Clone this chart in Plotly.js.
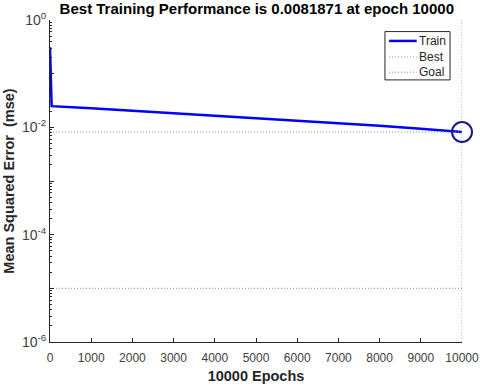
<!DOCTYPE html>
<html>
<head>
<meta charset="utf-8">
<script src="https://cdn.plot.ly/plotly-3.0.1.min.js"></script>
<style>html,body{margin:0;padding:0;background:#fff;}#chart{width:480px;height:386px;}</style>
</head>
<body>
<div id="chart"></div>
<script>
// Data
const epochs = [0, 10, 20, 40, 1000, 2000, 3000, 4000, 5000, 6000, 7000, 8000, 9000, 10000];
const trainPerf = [0.31, 0.12, 0.05, 0.0248, 0.0226, 0.0204, 0.0184, 0.0166, 0.0150, 0.0134, 0.0120, 0.0107, 0.00944, 0.0081871];
const bestEpoch = 10000;
const bestPerf = 0.0081871;
const goalPerf = 1e-5;
const xLimits = [0, 10000];
const yLimits = [1e-6, 1];
const xTicks = [0, 1000, 2000, 3000, 4000, 5000, 6000, 7000, 8000, 9000, 10000];
const xTickText = ['0', '1000', '2000', '3000', '4000', '5000', '6000', '7000', '8000', '9000', '10000'];
const yTickVals = [1e-6, 1e-5, 1e-4, 1e-3, 1e-2, 1e-1, 1];
const yTickText = ['10<sup>-6</sup>', '', '10<sup>-4</sup>', '', '10<sup>-2</sup>', '', '10<sup>0</sup>'];
const legendNames = ['Train', 'Best', 'Goal'];

const minorVals = [];
for (let e = -6; e < 0; e++) for (let m = 2; m <= 9; m++) minorVals.push(m * Math.pow(10, e));

const font = 'Liberation Sans, Arial, Helvetica, sans-serif';
const dotColor = '#8c8c8c';
const trainStyle = {color: '#0000ff', width: 2.5};
const dotStyle = {color: dotColor, width: 1, dash: '1px,2px'};

const traces = [
  {x: epochs, y: trainPerf, type: 'scatter', mode: 'lines', name: legendNames[0], line: trainStyle},
  {x: [xLimits[0], bestEpoch, null, bestEpoch, bestEpoch], y: [bestPerf, bestPerf, null, yLimits[0], yLimits[1]],
   type: 'scatter', mode: 'lines', name: legendNames[1], line: dotStyle},
  {x: xLimits, y: [goalPerf, goalPerf], type: 'scatter', mode: 'lines', name: legendNames[2], line: dotStyle},
  {x: [bestEpoch], y: [bestPerf], type: 'scatter', mode: 'markers', cliponaxis: false,
   marker: {symbol: 'circle-open', size: 20, color: '#1a1a8c', line: {width: 2, color: '#1a1a8c'}}}
];

// Legend box drawn in paper coordinates (MATLAB-style compact legend)
const legBox = {x0: 0.813, x1: 0.971, y0: 0.814, y1: 0.964};
const legRows = [0.935, 0.885, 0.838];
const legStyles = [trainStyle, dotStyle, dotStyle];
const shapes = [{type: 'rect', xref: 'paper', yref: 'paper', x0: legBox.x0, x1: legBox.x1, y0: legBox.y0, y1: legBox.y1,
                 line: {color: '#262626', width: 1}, fillcolor: '#ffffff', layer: 'above'}];
const annotations = [];
legendNames.forEach((n, i) => {
  shapes.push({type: 'line', xref: 'paper', yref: 'paper', x0: 0.823, x1: 0.89, y0: legRows[i], y1: legRows[i],
               line: legStyles[i], layer: 'above'});
  annotations.push({xref: 'paper', yref: 'paper', x: 0.89, y: legRows[i], xanchor: 'left', yanchor: 'middle',
                    text: n, showarrow: false, font: {size: 12, color: '#262626'}});
});

const layout = {
  width: 480, height: 386,
  paper_bgcolor: '#ffffff', plot_bgcolor: '#ffffff',
  margin: {l: 50, r: 18, t: 20, b: 44},
  font: {family: font, color: '#262626', size: 12},
  showlegend: false,
  shapes: shapes,
  annotations: annotations,
  title: {text: '<b>Best Training Performance is 0.0081871 at epoch 10000</b>',
          font: {family: font, size: 15, color: '#000'}, x: 0.535, xanchor: 'center', y: 0.977, yanchor: 'middle'},
  xaxis: {
    range: xLimits, tickvals: xTicks, ticktext: xTickText, ticks: 'inside', ticklen: 4, tickcolor: '#262626',
    showline: true, linecolor: '#262626', linewidth: 1, showgrid: false, zeroline: false,
    tickfont: {size: 12, color: '#404040'}, ticklabelstandoff: 5,
    title: {text: '<b>10000 Epochs</b>', font: {size: 14.5, color: '#262626'}, standoff: 6}
  },
  yaxis: {
    type: 'log', range: [Math.log10(yLimits[0]), Math.log10(yLimits[1])],
    tickvals: yTickVals, ticktext: yTickText, ticks: 'inside', ticklen: 4, tickcolor: '#262626',
    showline: true, linecolor: '#262626', linewidth: 1, showgrid: false, zeroline: false,
    tickfont: {size: 14, color: '#404040'},
    minor: {tickvals: minorVals, ticks: 'inside', ticklen: 2, tickcolor: '#262626', showgrid: false},
    title: {text: '<b>Mean Squared Error  (mse)</b>', font: {size: 14.5, color: '#262626'}, standoff: 3}
  }
};

Plotly.newPlot('chart', traces, layout, {staticPlot: true, displayModeBar: false});
</script>
</body>
</html>
